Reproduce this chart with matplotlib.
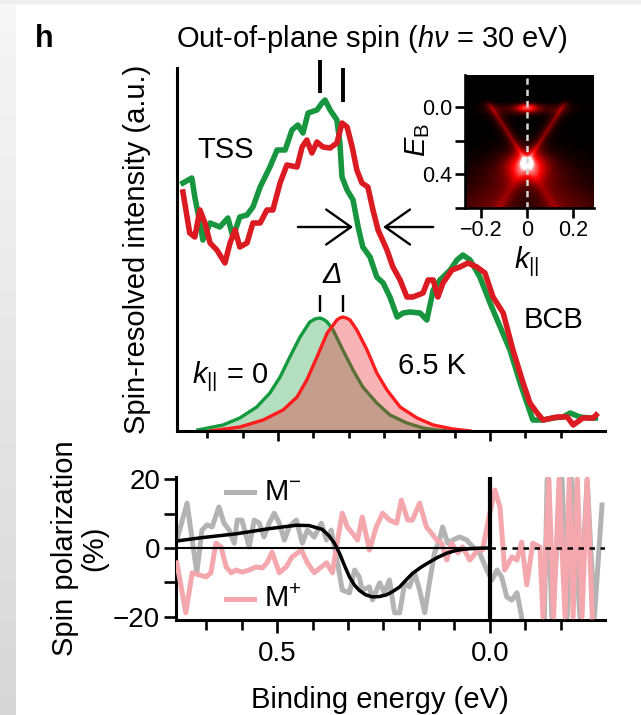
import numpy as np
import matplotlib
matplotlib.use("Agg")
import matplotlib.pyplot as plt
from matplotlib.colors import LinearSegmentedColormap
from matplotlib.patches import Rectangle

plt.rcParams['font.family'] = ['Liberation Sans', 'DejaVu Sans']
plt.rcParams['mathtext.fontset'] = 'custom'
plt.rcParams['mathtext.rm'] = 'Liberation Sans'
plt.rcParams['mathtext.it'] = 'Liberation Sans:italic'
plt.rcParams['mathtext.bf'] = 'Liberation Sans:bold'
plt.rcParams['axes.unicode_minus'] = True

# ---------------- data: spin-resolved EDCs (top panel) ----------------
green_E = [0.724, 0.703, 0.696, 0.684, 0.677, 0.660, 0.637, 0.618, 0.606, 0.590,
           0.573, 0.559, 0.542, 0.519, 0.502, 0.483, 0.467, 0.453, 0.441, 0.429,
           0.408, 0.396, 0.389, 0.377, 0.361, 0.354, 0.349, 0.337, 0.323, 0.311,
           0.300, 0.283, 0.267, 0.252, 0.236, 0.219, 0.205, 0.189, 0.165, 0.149,
           0.134, 0.118, 0.094, 0.078, 0.064, 0.047, 0.024, 0.000, -0.024, -0.047,
           -0.071, -0.087, -0.101, -0.125, -0.149, -0.172, -0.189, -0.212, -0.236, -0.248]
green_I = [2.48, 2.53, 2.34, 2.08, 1.91, 2.08, 2.04, 2.13, 1.94, 2.14,
           2.16, 2.24, 2.44, 2.64, 2.81, 2.81, 3.01, 3.06, 2.98, 3.18,
           3.21, 3.28, 3.31, 3.21, 3.11, 2.88, 2.54, 2.41, 2.31, 2.04,
           1.84, 1.74, 1.54, 1.48, 1.34, 1.14, 1.18, 1.19, 1.18, 1.11,
           1.41, 1.51, 1.61, 1.71, 1.76, 1.71, 1.54, 1.28, 1.04, 0.81,
           0.48, 0.28, 0.11, 0.11, 0.13, 0.14, 0.18, 0.14, 0.13, 0.13]

red_E = [0.724, 0.708, 0.696, 0.684, 0.672, 0.660, 0.644, 0.625, 0.613, 0.601,
         0.590, 0.573, 0.559, 0.542, 0.526, 0.512, 0.495, 0.479, 0.455, 0.443,
         0.432, 0.420, 0.408, 0.394, 0.377, 0.361, 0.349, 0.337, 0.325, 0.314,
         0.302, 0.288, 0.276, 0.264, 0.243, 0.229, 0.212, 0.196, 0.182, 0.158,
         0.146, 0.134, 0.123, 0.111, 0.090, 0.071, 0.052, 0.031, 0.012, -0.007,
         -0.031, -0.054, -0.078, -0.094, -0.111, -0.125, -0.158, -0.182, -0.196, -0.219,
         -0.243, -0.250]
red_I = [2.39, 1.98, 1.94, 2.21, 2.08, 1.88, 1.81, 1.68, 1.88, 2.01,
         1.84, 1.88, 2.08, 2.08, 2.21, 2.21, 2.48, 2.66, 2.64, 2.84,
         2.91, 2.78, 2.89, 2.84, 2.83, 2.88, 3.08, 3.04, 2.84, 2.61,
         2.48, 2.44, 2.21, 2.01, 1.81, 1.64, 1.51, 1.34, 1.34, 1.38,
         1.51, 1.51, 1.34, 1.48, 1.61, 1.64, 1.68, 1.64, 1.58, 1.34,
         1.18, 0.81, 0.48, 0.28, 0.18, 0.11, 0.14, 0.14, 0.06, 0.13,
         0.13, 0.16]

# fitted k=0 peaks
fit_green_E = [0.689, 0.630, 0.590, 0.550, 0.519, 0.495, 0.472, 0.448, 0.425, 0.413,
               0.401, 0.392, 0.384, 0.370, 0.347, 0.323, 0.300, 0.267, 0.236, 0.196,
               0.158, 0.125, 0.094]
fit_green_I = [0.01, 0.06, 0.13, 0.24, 0.38, 0.54, 0.74, 0.94, 1.09, 1.12,
               1.13, 1.115, 1.09, 1.01, 0.81, 0.61, 0.44, 0.28, 0.16, 0.08,
               0.03, 0.01, 0.0]
fit_red_E = [0.660, 0.590, 0.535, 0.488, 0.455, 0.432, 0.408, 0.384, 0.361, 0.354,
             0.347, 0.339, 0.330, 0.314, 0.290, 0.267, 0.243, 0.212, 0.172, 0.134,
             0.087, 0.047]
fit_red_I = [0.0, 0.04, 0.11, 0.21, 0.34, 0.51, 0.74, 0.98, 1.11, 1.13,
             1.14, 1.13, 1.11, 1.01, 0.81, 0.58, 0.41, 0.24, 0.13, 0.06,
             0.02, 0.0]
peak_E = [0.401, 0.347]          # marked peak positions (green, red)
arrow_E = [0.453, 0.323, 0.134, 0.252]   # arrow tails/tips
arrow_I = 2.04

# ---------------- data: spin polarization (bottom panel) ----------------
pol_minus_E = [0.736, 0.712, 0.689, 0.677, 0.665, 0.653, 0.637, 0.625, 0.613, 0.601,
               0.594, 0.583, 0.566, 0.554, 0.542, 0.531, 0.519, 0.507, 0.495, 0.483,
               0.472, 0.455, 0.441, 0.429, 0.413, 0.396, 0.384, 0.373, 0.358, 0.347,
               0.330, 0.318, 0.307, 0.300, 0.283, 0.276, 0.259, 0.248, 0.236, 0.224,
               0.212, 0.200, 0.189, 0.177, 0.165, 0.153, 0.142, 0.130, 0.118, 0.111,
               0.099, 0.087, 0.071, 0.054, 0.040, 0.024, 0.007, -0.005, -0.017, -0.028,
               -0.040, -0.052, -0.064, -0.075, -0.080, -0.125, -0.135, -0.146, -0.170, -0.182,
               -0.193, -0.212, -0.229, -0.246, -0.264]
pol_minus_P = [2.3, 13.0, -7.2, 5.2, 6.7, 6.1, 11.9, 7.2, 5.2, 1.4,
               8.1, 8.1, 0.3, 8.1, 7.2, 3.2, 7.2, 10.1, 7.2, 2.3,
               6.1, 8.1, 1.4, 5.2, 3.2, 7.2, 2.3, 5.2, -4.3, -12.2,
               -13.0, -6.4, -8.4, -12.2, -11.3, -15.1, -10.1, -13.0, -9.3, -18.8,
               -18.8, -10.1, -11.3, -7.2, -12.2, -18.8, -10.1, -1.4, 2.3, 6.1,
               1.4, 2.3, 3.2, 2.3, 0.3, -1.4, -6.4, -9.3, -6.4, -8.4,
               -14.2, -15.1, -13.0, -20.0, -40.0, -40.0, 20.0, -20.0, 20.0, -20.0,
               20.0, -20.0, 20.0, -20.0, 12.5]
pol_plus_E = [0.736, 0.715, 0.700, 0.684, 0.667, 0.656, 0.644, 0.632, 0.620, 0.608,
              0.597, 0.583, 0.566, 0.550, 0.535, 0.524, 0.512, 0.495, 0.479, 0.465,
              0.443, 0.429, 0.413, 0.396, 0.384, 0.370, 0.358, 0.347, 0.335, 0.323,
              0.311, 0.300, 0.283, 0.267, 0.252, 0.236, 0.219, 0.208, 0.193, 0.182,
              0.165, 0.149, 0.137, 0.125, 0.113, 0.101, 0.090, 0.075, 0.064, 0.047,
              0.028, 0.017, 0.005, -0.012, -0.024, -0.035, -0.052, -0.064, -0.075, -0.087,
              -0.101, -0.118, -0.125, -0.139, -0.150, -0.163, -0.177, -0.187, -0.196, -0.206,
              -0.217, -0.229, -0.241]
pol_plus_P = [-4.3, -18.8, -7.2, -7.8, -8.4, -7.2, 1.4, 0.3, -5.5, -7.2,
              -6.4, -7.0, -6.4, -5.5, -5.8, -4.3, -1.2, -7.2, -5.5, -2.6,
              -0.6, -4.3, -7.2, -5.5, -4.3, -7.2, 2.3, 10.1, 6.1, 4.3,
              2.3, 9.0, -0.6, 6.1, 10.1, 8.1, 7.2, 13.9, 8.1, 8.1,
              13.0, 6.1, 4.3, 2.3, 1.4, -3.5, 1.4, -1.4, 0.3, -3.5,
              -0.6, -0.6, 7.2, 16.8, 11.9, -6.4, -2.6, -3.5, 1.7, -10.7,
              1.4, 0.3, -20.0, 20.0, -20.0, 20.0, -20.0, 20.0, -20.0, 20.0,
              -20.0, 20.0, -20.0]
pol_fit_E = [0.738, 0.677, 0.597, 0.519, 0.455, 0.425, 0.394, 0.377, 0.365, 0.354,
             0.342, 0.330, 0.318, 0.307, 0.292, 0.276, 0.260, 0.243, 0.228, 0.212,
             0.197, 0.182, 0.162, 0.142, 0.122, 0.101, 0.082, 0.064, 0.040, 0.020, 0.000]
pol_fit_P = [2.0, 3.0, 4.1, 5.6, 6.6, 6.5, 5.4, 3.4, 1.3, -1.4,
             -5.0, -8.4, -10.8, -12.3, -13.6, -14.2, -14.1, -13.6, -12.6, -11.3,
             -9.3, -7.4, -5.6, -4.1, -2.7, -1.5, -0.8, -0.4, -0.15, -0.05, 0.0]

# ---------------- inset ARPES model parameters ----------------
inset_k = np.linspace(-0.27, 0.293, 260)
inset_EB = np.linspace(-0.19, 0.60, 260)
dirac_E = 0.33
fermi_E = -0.025
cone_v = 0.47
vb_v = 0.45

GREEN = '#17963f'
RED = '#dc1a22'
GREEN_FIT = '#139a3c'
RED_FIT = '#ff1c1c'
GREY = '#b3b3b3'
PINK = '#f4a8ad'

fig = plt.figure(figsize=(6.41, 7.15), dpi=100)
W, H = 641.0, 715.0

# grey photo-edge strip on the left
strip = fig.add_axes([0, 0, 16 / W, 1])
strip.imshow(np.linspace(0.965, 0.84, 100)[:, None], cmap='gray', vmin=0, vmax=1,
             aspect='auto', extent=[0, 1, 0, 1])
strip.axis('off')
fig.patches.append(Rectangle((0, 1 - 3 / H), 1, 3 / H, transform=fig.transFigure,
                             color='#eeeeee', zorder=0))

xlim = (0.738, -0.271)
lw_ax = 2.2
fs = 21
fst = 20

# ---------------- top panel ----------------
ax1 = fig.add_axes([177 / W, 1 - 431 / H, (605 - 177) / W, (431 - 68) / H])
ax1.set_xlim(*xlim)
ax1.set_ylim(0, 3.63)
for s in ['top', 'right']:
    ax1.spines[s].set_visible(False)
for s in ['left', 'bottom']:
    ax1.spines[s].set_linewidth(lw_ax)
ax1.set_yticks([])
ax1.set_xticks([0.5, 0.0])
ax1.set_xticks([k / 12 for k in range(-2, 9) if k not in (0, 6)], minor=True)
ax1.tick_params(axis='x', which='major', length=7.5, width=1.9, labelbottom=False)
ax1.tick_params(axis='x', which='minor', length=5, width=1.9)

ax1.fill_between(fit_green_E, fit_green_I, 0, color=GREEN_FIT, alpha=0.32, lw=0, zorder=2)
ax1.plot(fit_green_E, fit_green_I, color=GREEN_FIT, lw=2.4, zorder=2)
ax1.fill_between(fit_red_E, fit_red_I, 0, color='#e8202a', alpha=0.34, lw=0, zorder=2)
ax1.plot(fit_red_E, fit_red_I, color=RED_FIT, lw=2.4, zorder=2)

ax1.plot(green_E, green_I, color=GREEN, lw=4.0, zorder=3, solid_joinstyle='round')
ax1.plot(red_E, red_I, color=RED, lw=4.0, zorder=4, solid_joinstyle='round')

ax1.plot([peak_E[0]] * 2, [3.38, 3.71], color='k', lw=2.8, clip_on=False, solid_capstyle='butt')
ax1.plot([peak_E[1]] * 2, [3.29, 3.63], color='k', lw=2.8, clip_on=False, solid_capstyle='butt')
for e in peak_E:
    ax1.plot([e, e], [1.19, 1.36], color='k', lw=1.7, solid_capstyle='butt')

ap = dict(arrowstyle='->,head_length=0.85,head_width=0.6', lw=1.7, color='k',
          mutation_scale=21, shrinkA=0, shrinkB=0)
ax1.annotate('', xy=(arrow_E[1], arrow_I), xytext=(arrow_E[0], arrow_I), arrowprops=ap)
ax1.annotate('', xy=(arrow_E[3], arrow_I), xytext=(arrow_E[2], arrow_I), arrowprops=ap)

ax1.text(0.689, 2.73, 'TSS', fontsize=fs, ha='left', va='baseline')
ax1.text(-0.078, 1.03, 'BCB', fontsize=fs, ha='left', va='baseline')
ax1.text(0.217, 0.57, '6.5 K', fontsize=fs, ha='left', va='baseline')
ax1.text(0.703, 0.48, r'$k_{||}$ = 0', fontsize=fs, ha='left', va='baseline')
ax1.text(0.373, 1.48, 'Δ', fontsize=fs, fontstyle='italic', ha='center', va='baseline')

# ---------------- bottom panel ----------------
ax2 = fig.add_axes([176 / W, 1 - 620 / H, (605 - 176) / W, (620 - 477) / H])
ax2.set_xlim(*xlim)
ax2.set_ylim(-20.9, 20.6)
for s in ['top', 'right']:
    ax2.spines[s].set_visible(False)
for s in ['left', 'bottom']:
    ax2.spines[s].set_linewidth(lw_ax)

ax2.plot(pol_minus_E, pol_minus_P, color=GREY, lw=3.6, zorder=2, solid_joinstyle='round')
ax2.plot(pol_plus_E, pol_plus_P, color=PINK, lw=3.6, zorder=3, solid_joinstyle='round')
ax2.plot([xlim[0], 0], [0, 0], color='k', lw=1.5, zorder=4)
ax2.plot([0, xlim[1]], [0, 0], color='k', lw=1.8, ls=(0, (2.2, 2.2)), zorder=4)
ax2.plot(pol_fit_E, pol_fit_P, color='k', lw=2.5, zorder=5)
ax2.axvline(0, color='k', lw=3.0, zorder=6)

ax2.plot([0.620, 0.554], [16.2, 16.2], color=GREY, lw=3.6)
ax2.text(0.531, 16.2, r'M$^{-}$', fontsize=fs, ha='left', va='center')
ax2.plot([0.620, 0.554], [-14.8, -14.8], color=PINK, lw=3.6)
ax2.text(0.531, -14.8, r'M$^{+}$', fontsize=fs, ha='left', va='center')

ax2.set_xticks([0.5, 0.0])
ax2.set_xticklabels(['0.5', '0.0'])
ax2.set_xticks([k / 12 for k in range(-2, 9) if k not in (0, 6)], minor=True)
ax2.set_yticks([20, 0, -20])
ax2.set_yticks([10, -10], minor=True)
ax2.tick_params(axis='x', which='major', length=9, width=1.9, labelsize=fst, pad=6)
ax2.tick_params(axis='x', which='minor', length=7, width=1.9)
ax2.tick_params(axis='y', which='both', length=8.5, width=1.9, labelsize=fst, pad=3)

fig.text(380 / W, 1 - 708 / H, 'Binding energy (eV)', fontsize=fs, ha='center', va='baseline')
fig.text(80 / W, 1 - 548 / H, 'Spin polarization\n(%)', fontsize=fs, rotation=90,
         ha='center', va='center', multialignment='center', linespacing=1.05)
fig.text(137 / W, 1 - 249 / H, 'Spin-resolved intensity (a.u.)', fontsize=fs,
         rotation=90, ha='center', va='center')
fig.text(372 / W, 1 - 47 / H, r'Out-of-plane spin ($h\nu$ = 30 eV)', fontsize=fs,
         ha='center', va='baseline')
fig.text(35 / W, 1 - 47 / H, 'h', fontsize=22, fontweight='bold', ha='left', va='baseline')

# ---------------- inset ----------------
ax3 = fig.add_axes([465 / W, 1 - 208 / H, (594 - 465) / W, (208 - 75) / H])
K, EB = np.meshgrid(inset_k, inset_EB)
fermi = 1 / (1 + np.exp(-(EB - fermi_E) / 0.01))
above_dp = 1 / (1 + np.exp((EB - dirac_E) / 0.02))
below_dp = 1 - above_dp
kb = cone_v * np.clip(dirac_E - EB, 0, None)
upper = (0.32 / (1 + ((np.abs(K) - kb) / 0.011) ** 2)
         + 0.14 * np.exp(-((np.abs(K) - kb) / 0.035) ** 2)) * above_dp
pocket = 0.75 * np.exp(-(K / 0.045) ** 2 - ((EB - 0.0) / 0.028) ** 2)
fglow = 0.3 * np.exp(-((EB - 0.01) / 0.035) ** 2) * np.exp(-(K / 0.15) ** 2)
dp_core = 0.8 * np.exp(-(K / 0.024) ** 2 - ((EB - dirac_E) / 0.026) ** 2)
dp_glow = 0.75 * np.exp(-(K / 0.085) ** 2 - ((EB - 0.345) / 0.085) ** 2)
kb2 = vb_v * np.clip(EB - dirac_E, 0, None)
lower = 0.22 / (1 + ((np.abs(K) - kb2) / 0.03) ** 2) * below_dp
inside = np.exp(-(K / (kb2 + 0.015)) ** 2) * below_dp
bg = (0.48 * np.exp(-((EB - 0.62) / 0.17) ** 2) * np.exp(-(K / 0.32) ** 2) * (1 - 0.7 * inside)
      + 0.25 * np.exp(-((EB - 0.38) / 0.12) ** 2) * np.exp(-(K / 0.2) ** 2))
img = (pocket + fglow + upper + dp_core + dp_glow + lower + bg) * fermi
cmap = LinearSegmentedColormap.from_list('arpes', [(0, 'black'), (0.3, '#6e0000'),
                                                   (0.6, '#ff0000'), (0.85, '#ff7a7a'),
                                                   (1.0, 'white')])
ax3.imshow(img, cmap=cmap, vmin=0, vmax=1.25, aspect='auto', origin='lower',
           extent=[inset_k[0], inset_k[-1], inset_EB[0], inset_EB[-1]], interpolation='bilinear')
ax3.set_xlim(inset_k[0], inset_k[-1])
ax3.set_ylim(inset_EB[-1], inset_EB[0])
ax3.axvline(0, color='#d9d9d9', lw=1.8, ls=(0, (2.5, 2)))
for s in ['top', 'right']:
    ax3.spines[s].set_visible(False)
for s in ['left', 'bottom']:
    ax3.spines[s].set_linewidth(1.9)
ax3.set_yticks([0.0, 0.4])
ax3.set_yticklabels(['0.0', '0.4'])
ax3.set_yticks([0.2, 0.6], minor=True)
ax3.set_xticks([-0.2, 0.0, 0.2])
ax3.set_xticklabels(['\u22120.2', '0', '0.2'])
ax3.tick_params(axis='both', which='both', length=7, width=1.9, labelsize=15.5, pad=2)
fig.text(418 / W, 1 - 140 / H, r'$E_{\mathrm{B}}$', fontsize=fs, rotation=90,
         ha='center', va='center')
fig.text(527 / W, 1 - 244 / H, r'$k_{||}$', fontsize=fs, ha='center', va='top')

fig.savefig('out.png', dpi=100)
